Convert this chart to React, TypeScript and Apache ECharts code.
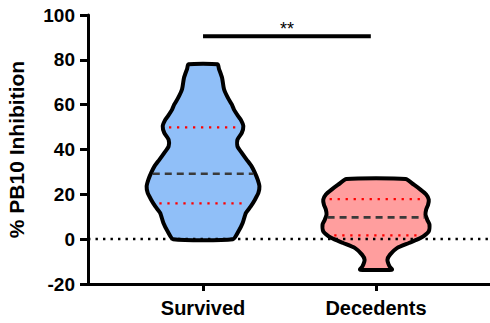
import React, { useEffect, useRef } from "react";
import * as echarts from "echarts";

// Groups along the x axis
const categories = ["Survived", "Decedents"];

// Violin outlines: y levels (top to bottom) and half-widths in x-axis units
const survivedLevels = [78, 76, 72, 67, 63, 60, 57.8, 55, 53.3, 50.4, 47.4, 44.4, 41.4, 38.5, 35.5, 32.5, 29.6, 26.6, 23.6, 20.6, 17.6, 14.6, 11.7, 7.2, 3.5, 0];
const survivedHalfWidth = [0.084, 0.092, 0.11, 0.121, 0.144, 0.167, 0.179, 0.202, 0.218, 0.233, 0.224, 0.199, 0.199, 0.224, 0.252, 0.281, 0.3, 0.316, 0.326, 0.32, 0.3, 0.276, 0.248, 0.229, 0.205, 0.173];

const decedentsLevels = [26.8, 24.3, 22.1, 19.9, 17.6, 15.4, 13.2, 10.9, 8.7, 6.5, 3.5, 0.5, -1.7, -3.9, -6.9, -9.2, -12.1, -13.6];
const decedentsHalfWidth = [0.171, 0.219, 0.257, 0.29, 0.305, 0.301, 0.29, 0.286, 0.296, 0.309, 0.305, 0.257, 0.19, 0.123, 0.081, 0.066, 0.078, 0.092];

// Quartiles: [Q1, median, Q3]
const survivedQuartiles = [16.0, 29.2, 49.9];
const decedentsQuartiles = [1.7, 9.7, 17.9];

// Significance bracket between the two groups
const sigFrom = 0;
const sigTo = 0.97;
const sigLevel = 90.5;
const sigLabel = "**";

// Y axis range
const yMin = -20;
const yMax = 100;
const yStep = 20;

const FONT = 'Arial, "Liberation Sans", sans-serif';

const groups = [
  { levels: survivedLevels, half: survivedHalfWidth, quartiles: survivedQuartiles, fill: "#90BFF8" },
  { levels: decedentsLevels, half: decedentsHalfWidth, quartiles: decedentsQuartiles, fill: "#FF9E9E" },
];

function halfAt(levels: number[], half: number[], v: number): number {
  for (let i = 0; i < levels.length - 1; i++) {
    const a = levels[i];
    const b = levels[i + 1];
    if ((v <= a && v >= b) || (v >= a && v <= b)) {
      const t = (v - a) / (b - a);
      return half[i] + t * (half[i + 1] - half[i]);
    }
  }
  return 0;
}

export default function App() {
  const ref = useRef<HTMLDivElement>(null);

  useEffect(() => {
    if (!ref.current) return;
    const chart = echarts.init(ref.current, null, { renderer: "svg" });

    const renderViolin = (params: any, api: any) => {
      const gi = params.dataIndex;
      const g = groups[gi];
      const cx = gi;
      const right: number[][] = [];
      const left: number[][] = [];
      for (let i = 0; i < g.levels.length; i++) {
        right.push(api.coord([cx + g.half[i], g.levels[i]]));
        left.push(api.coord([cx - g.half[i], g.levels[i]]));
      }
      const pts = right.concat(left.reverse());
      const children: any[] = [
        {
          type: "polygon",
          shape: { points: pts, smooth: 0.2 },
          style: { fill: g.fill, stroke: "#000", lineWidth: 4, lineJoin: "round" },
        },
      ];
      g.quartiles.forEach((q, qi) => {
        const h = halfAt(g.levels, g.half, q);
        const p0 = api.coord([cx - h, q]);
        const p1 = api.coord([cx + h, q]);
        const isMedian = qi === 1;
        const inset = isMedian ? 2 : 6;
        children.push({
          type: "line",
          shape: { x1: p0[0] + inset, y1: p0[1], x2: p1[0] - inset, y2: p1[1] },
          style: isMedian
            ? { stroke: "#3a3a3a", lineWidth: 2.6, lineDash: [7, 5] }
            : { stroke: "#ff0000", lineWidth: 2.3, lineDash: [2.3, 5.7] },
        });
      });
      return { type: "group", children };
    };

    const renderSig = (params: any, api: any) => {
      const p0 = api.coord([sigFrom, sigLevel]);
      const p1 = api.coord([sigTo, sigLevel]);
      return {
        type: "group",
        children: [
          {
            type: "line",
            shape: { x1: p0[0], y1: p0[1], x2: p1[0], y2: p1[1] },
            style: { stroke: "#000", lineWidth: 4 },
          },
          {
            type: "text",
            x: (p0[0] + p1[0]) / 2,
            y: p0[1] - 7,
            style: {
              text: sigLabel,
              fill: "#000",
              font: `18px ${FONT}`,
              align: "center",
              verticalAlign: "middle",
            },
          },
        ],
      };
    };

    const option: any = {
      animation: false,
      grid: {
        left: 88,
        right: 0,
        top: 15,
        bottom: 39,
        containLabel: false,
        outerBoundsMode: "none",
      },
      xAxis: {
        type: "value",
        min: -0.665,
        max: 1.659,
        axisLine: { show: true, onZero: false, lineStyle: { color: "#000", width: 3 } },
        axisTick: { show: true, customValues: [0, 1], length: 7, lineStyle: { color: "#000", width: 3 } },
        axisLabel: {
          customValues: [0, 1],
          formatter: (v: number) => categories[Math.round(v)] ?? "",
          fontSize: 20,
          fontWeight: "bold",
          fontFamily: FONT,
          color: "#000",
          margin: 14,
        },
        splitLine: { show: false },
      },
      yAxis: {
        type: "value",
        min: yMin,
        max: yMax,
        interval: yStep,
        name: "% PB10 Inhibition",
        nameLocation: "middle",
        nameRotate: 90,
        nameGap: 61,
        nameTextStyle: { fontSize: 21, fontWeight: "bold", fontFamily: FONT, color: "#000" },
        axisLine: { show: true, onZero: false, lineStyle: { color: "#000", width: 3 } },
        axisTick: { show: true, length: 8, lineStyle: { color: "#000", width: 3 } },
        axisLabel: { fontSize: 19, fontWeight: "bold", fontFamily: FONT, color: "#000", margin: 13 },
        splitLine: { show: false },
      },
      series: [
        {
          type: "line",
          data: [],
          z: 1,
          silent: true,
          markLine: {
            silent: true,
            symbol: "none",
            label: { show: false },
            lineStyle: { color: "#000", width: 2.4, type: [2.4, 5.1] },
            data: [{ yAxis: 0 }],
          },
        },
        {
          type: "custom",
          z: 2,
          clip: false,
          data: categories.map((_, i) => [i]),
          renderItem: renderViolin,
        },
        {
          type: "custom",
          z: 3,
          clip: false,
          data: [[sigFrom, sigTo, sigLevel]],
          renderItem: renderSig,
        },
      ],
    };

    chart.setOption(option);
    return () => chart.dispose();
  }, []);

  return (
    <div
      ref={ref}
      style={{ position: "fixed", left: 0, top: 0, width: 490, height: 323, background: "#fff" }}
    />
  );
}
